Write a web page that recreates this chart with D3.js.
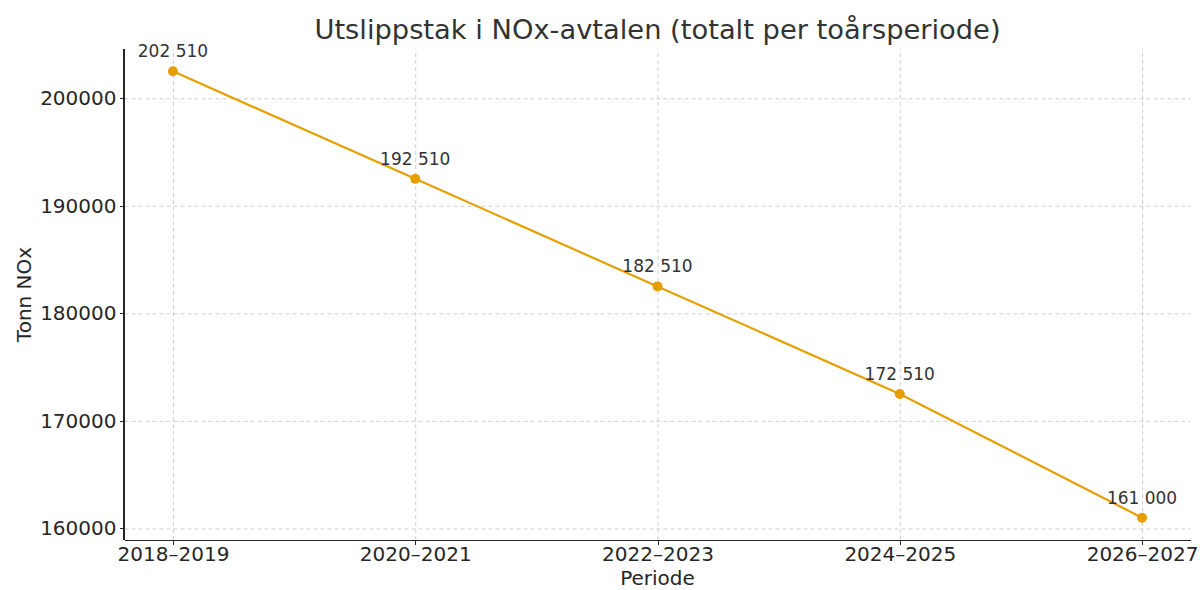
<!DOCTYPE html>
<html lang="no">
<head>
    <meta charset="UTF-8">
    <title>Utslippstak i NOx-avtalen</title>
    <style>
        body { margin: 0; background: #fff; }
        svg { display: block; font-family: "DejaVu Sans", sans-serif; }
        .axis path, .axis line { stroke: #262626; shape-rendering: crispEdges; }
        .axis text { font-size: 20px; fill: #262626; font-family: "DejaVu Sans", sans-serif; }
        .grid line { stroke: #c4c4c4; stroke-width: 0.8; stroke-dasharray: 4,3; }
        .grid path { display: none; }
    </style>
</head>
<body>
<script src="https://d3js.org/d3.v7.min.js"></script>
<script>
    var width = 1200;
    var height = 590;
    var margin = { left: 124.5, right: 9.5, top: 49, bottom: 50 };

    // data
    var periods = ['2018–2019', '2020–2021', '2022–2023', '2024–2025', '2026–2027'];
    var values = [202510, 192510, 182510, 172510, 161000];
    var yTicks = [160000, 170000, 180000, 190000, 200000];

    var color = '#E69F00';
    var innerW = width - margin.left - margin.right;
    var innerH = height - margin.top - margin.bottom;

    var svg = d3.select('body').append('svg').attr('width', width).attr('height', height);
    var g = svg.append('g').attr('transform', 'translate(' + margin.left + ',' + margin.top + ')');

    // matplotlib-style 5% padding
    var xScale = d3.scaleLinear()
        .domain([-0.2, periods.length - 1 + 0.2])
        .range([0, innerW]);
    var ymin = d3.min(values), ymax = d3.max(values);
    var pad = (ymax - ymin) * 0.05;
    var yScale = d3.scaleLinear()
        .domain([ymin - pad, ymax + pad])
        .range([innerH, 0]);

    // grid
    g.append('g').attr('class', 'grid')
        .call(d3.axisLeft(yScale).tickValues(yTicks).tickSize(-innerW).tickFormat(''));
    g.append('g').attr('class', 'grid')
        .attr('transform', 'translate(0,' + innerH + ')')
        .call(d3.axisBottom(xScale).tickValues(d3.range(periods.length)).tickSize(-innerH).tickFormat(''));

    // axes
    var xAxis = g.append('g').attr('class', 'axis')
        .attr('transform', 'translate(0,' + innerH + ')')
        .call(d3.axisBottom(xScale).tickValues(d3.range(periods.length))
            .tickSize(5).tickPadding(2).tickFormat(function (i) { return periods[i]; }));
    var yAxis = g.append('g').attr('class', 'axis')
        .call(d3.axisLeft(yScale).tickValues(yTicks).tickSize(5).tickPadding(3)
            .tickFormat(d3.format('d')));
    g.selectAll('.axis path').attr('stroke-width', 1.3);
    xAxis.select('.domain').attr('d', 'M0,0.5H' + innerW);
    yAxis.select('.domain').attr('d', 'M-0.5,0V' + innerH);

    // line
    var line = d3.line()
        .x(function (d, i) { return xScale(i); })
        .y(function (d) { return yScale(d); });
    g.append('path').datum(values)
        .attr('d', line)
        .attr('fill', 'none')
        .attr('stroke', color)
        .attr('stroke-width', 2.2);

    g.selectAll('.dot').data(values).enter().append('circle')
        .attr('class', 'dot')
        .attr('cx', function (d, i) { return xScale(i); })
        .attr('cy', function (d) { return yScale(d); })
        .attr('r', 5)
        .attr('fill', color);

    // value labels
    var fmt = function (v) { return d3.format(',')(v).replace(/,/g, ' '); };
    g.selectAll('.lbl').data(values).enter().append('text')
        .attr('class', 'lbl')
        .attr('x', function (d, i) { return xScale(i); })
        .attr('y', function (d) { return yScale(d) - 14; })
        .attr('text-anchor', 'middle')
        .attr('font-size', 17)
        .attr('fill', '#333')
        .text(fmt);

    // title and axis labels
    svg.append('text')
        .attr('x', margin.left + innerW / 2).attr('y', 39)
        .attr('text-anchor', 'middle').attr('font-size', 27.3).attr('fill', '#333')
        .text('Utslippstak i NOx-avtalen (totalt per toårsperiode)');
    svg.append('text')
        .attr('x', margin.left + innerW / 2).attr('y', 585)
        .attr('text-anchor', 'middle').attr('font-size', 20).attr('fill', '#262626')
        .text('Periode');
    svg.append('text')
        .attr('transform', 'translate(31,' + (margin.top + innerH / 2) + ') rotate(-90)')
        .attr('text-anchor', 'middle').attr('font-size', 20).attr('fill', '#262626')
        .text('Tonn NOx');
</script>
</body>
</html>
